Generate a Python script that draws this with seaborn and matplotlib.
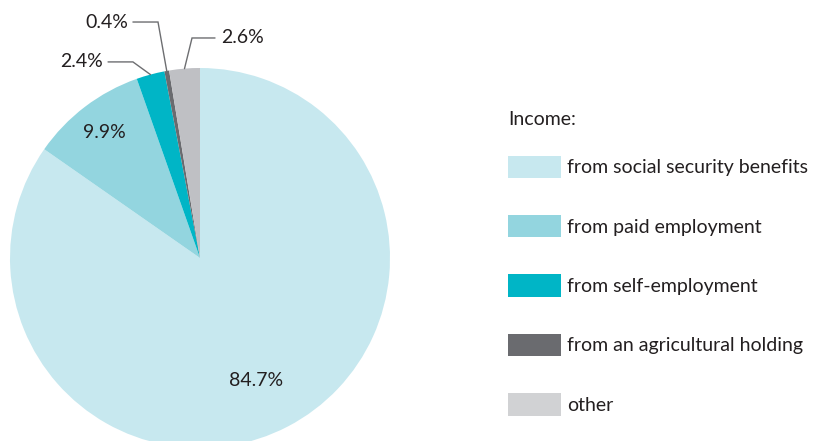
import numpy as np
import matplotlib
matplotlib.use("Agg")
import matplotlib.pyplot as plt
import seaborn as sns

# Income structure shares (%)
categories = ["from social security benefits", "from paid employment",
              "from self-employment", "from an agricultural holding", "other"]
shares = [84.7, 9.9, 2.4, 0.4, 2.6]
share_labels = ["84.7%", "9.9%", "2.4%", "0.4%", "2.6%"]
colors = ["#c7e8ef", "#93d5df", "#00b5c6", "#6a6b6f", "#bfc0c4"]

sns.set_theme(style="white")
plt.rcParams["font.family"] = ["Lato", "DejaVu Sans"]
text_color = "#231f20"
line_color = "#6d6e71"
fs = 14

fig = plt.figure(figsize=(8.19, 4.41), dpi=100)
ax = fig.add_axes([0, 0, 420 / 819, 1])

palette = sns.color_palette(colors)
wedges, _ = ax.pie(shares, colors=palette, startangle=90, counterclock=False,
                   radius=1.0, wedgeprops=dict(linewidth=0))
ax.set_xlim(-200 / 190, 220 / 190)
ax.set_ylim(-183 / 190, 258 / 190)
ax.set_aspect("equal", adjustable="datalim")
ax.axis("off")

mid = [np.deg2rad((w.theta1 + w.theta2) / 2) for w in wedges]

# labels inside the two big wedges
for i, r, dang in [(0, 0.71, -3), (1, 0.83, 0)]:
    a = mid[i] + np.deg2rad(dang)
    ax.text(r * np.cos(a), r * np.sin(a), share_labels[i], ha="center", va="center",
            fontsize=fs, color=text_color)

# leader lines for the small wedges: (index, elbow, line end, text x, align)
leaders = [
    (2, (-0.353, 1.032), -0.484, -0.51, "right"),
    (3, (-0.221, 1.242), -0.353, -0.38, "right"),
    (4, (-0.042, 1.158), 0.079, 0.11, "left"),
]
for i, (ex, ey), lx, tx, ha in leaders:
    axp, ayp = np.cos(mid[i]), np.sin(mid[i])
    ax.plot([axp, ex, lx], [ayp, ey, ey], color=line_color, lw=1.0,
            solid_joinstyle="miter", clip_on=False)
    ax.text(tx, ey, share_labels[i], ha=ha, va="center", fontsize=fs,
            color=text_color)

leg = fig.legend(wedges, categories, title="Income:", loc="upper left",
                 bbox_to_anchor=(500 / 819, 1 - 103 / 441), frameon=False,
                 fontsize=fs, title_fontsize=fs, handlelength=2.75,
                 handleheight=1.4, labelspacing=1.9, handletextpad=0.3,
                 alignment="left", borderaxespad=0)
for t in leg.get_texts():
    t.set_color(text_color)
leg.get_title().set_color(text_color)
leg._legend_box.sep = 20
# legend "other" swatch is a touch lighter than the wedge
leg.legend_handles[4].set_facecolor("#d1d2d4")

fig.savefig("out.png", dpi=100)
